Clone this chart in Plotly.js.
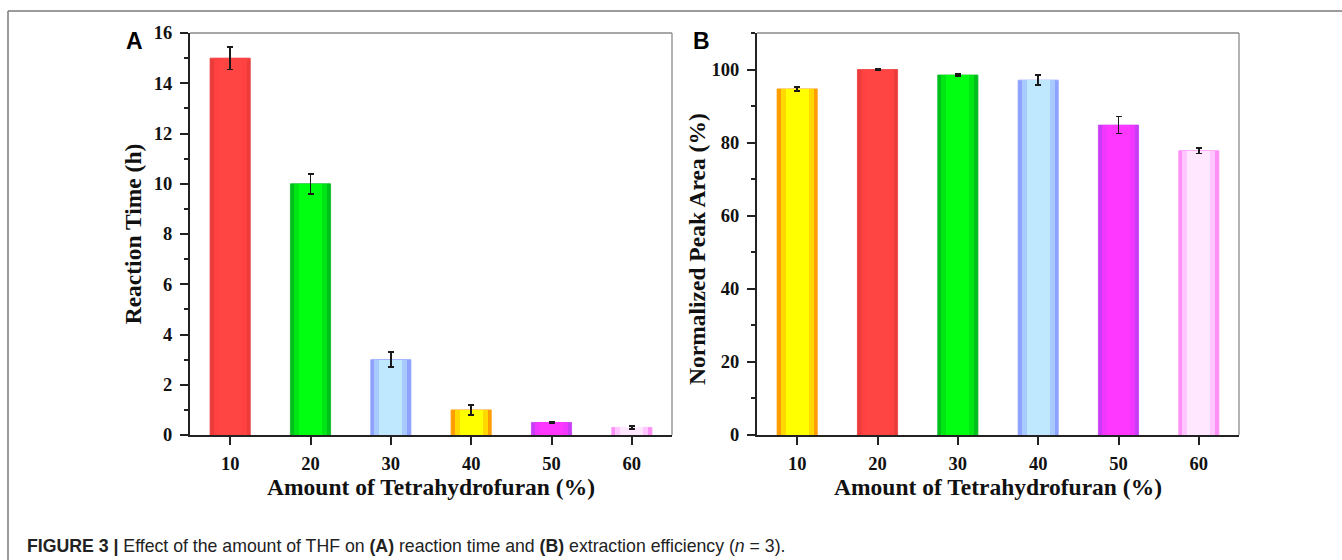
<!DOCTYPE html>
<html>
<head>
<meta charset="utf-8">
<script src="https://cdn.plot.ly/plotly-3.0.1.min.js"></script>
<style>html,body{margin:0;padding:0;background:#fff;} #chart{width:1342px;height:560px;}</style>
</head>
<body>
<div id="chart"></div>
<script>
// ---- data ----
const thfAmount = [10, 20, 30, 40, 50, 60];
const reactionTime = [15, 10, 3, 1, 0.5, 0.3];
const reactionTimeErr = [0.45, 0.4, 0.3, 0.2, 0.03, 0.06];
const peakArea = [94.7, 100, 98.5, 97.1, 84.8, 77.8];
const peakAreaErr = [0.6, 0.15, 0.3, 1.4, 2.3, 0.8];
const tickLabels = ['10', '20', '30', '40', '50', '60'];

// ---- styles ----
const RED = ['#EC3B3B', '#FF4141', '#FF4444'];
const GREEN = ['#00BE1C', '#00E614', '#00FF10'];
const BLUE = ['#8FA2FF', '#A8CAFF', '#BFE8FF'];
const YELLOW = ['#FF9C00', '#FFD800', '#FFFF00'];
const MAGENTA = ['#C83CF6', '#F036FF', '#FF38FF'];
const PINK = ['#FF90F6', '#FFC6FF', '#FFE8FF'];
const colorsA = [RED, GREEN, BLUE, YELLOW, MAGENTA, PINK];
const colorsB = [YELLOW, RED, GREEN, BLUE, MAGENTA, PINK];
const layerWidths = [5, 4.1, 2.9];

const serif = 'Liberation Serif, Times New Roman, serif';
const sans = 'Liberation Sans, Arial, sans-serif';

function layeredBars(y, err, colors, xa, ya) {
  const traces = [];
  layerWidths.forEach((w, li) => {
    const t = {
      type: 'bar', x: thfAmount, y: y, width: w,
      xaxis: xa, yaxis: ya, showlegend: false, hoverinfo: 'x+y',
      marker: {color: colors.map(c => c[li]),
               line: {width: li === 0 ? 0.8 : 0, color: colors.map(c => c[0])}}
    };
    if (li === layerWidths.length - 1) {
      t.error_y = {type: 'data', array: err, visible: true, color: '#1a1a1a', thickness: 1.6, width: 3};
    }
    traces.push(t);
  });
  return traces;
}

const data = [].concat(
  layeredBars(reactionTime, reactionTimeErr, colorsA, 'x', 'y'),
  layeredBars(peakArea, peakAreaErr, colorsB, 'x2', 'y2')
);

const W = 1342, H = 560;
const ydom = [(H - 435) / H, (H - 33) / H];
const tickFont = {family: serif, size: 18.5, weight: 'bold', color: '#111'};
const titleFont = {family: serif, size: 23.5, weight: 'bold', color: '#111'};

function xAxis(domain, anchor) {
  return {
    domain: domain, anchor: anchor, range: [5, 65],
    tickmode: 'array', tickvals: thfAmount, ticktext: tickLabels,
    ticks: 'outside', ticklen: 8, tickwidth: 2, tickcolor: '#222',
    showline: true, linewidth: 2, linecolor: '#222',
    showgrid: false, zeroline: false, fixedrange: true,
    tickfont: tickFont, ticklabelstandoff: 3,
    title: {text: 'Amount of Tetrahydrofuran (%)', font: titleFont, standoff: 4}
  };
}
function yAxis(domain, anchor, range, dtick, minor, title, standoff) {
  const ax = {
    domain: domain, anchor: anchor, range: range, dtick: dtick,
    ticks: 'outside', ticklen: 8, tickwidth: 2, tickcolor: '#222',
    minor: {dtick: minor, ticks: 'outside', ticklen: 4, tickwidth: 2, tickcolor: '#222', showgrid: false},
    showline: true, linewidth: 2, linecolor: '#222',
    showgrid: false, zeroline: false, fixedrange: true,
    tickfont: tickFont, ticklabelstandoff: 4
  };
  if (title) ax.title = {text: title, font: titleFont, standoff: standoff};
  return ax;
}

const frame = (xr, yr) => ([
  {type: 'line', xref: xr + ' domain', yref: yr + ' domain', x0: 0, x1: 1, y0: 1, y1: 1, line: {color: '#8a8a8a', width: 1.3}},
  {type: 'line', xref: xr + ' domain', yref: yr + ' domain', x0: 1, x1: 1, y0: 0, y1: 1, line: {color: '#8a8a8a', width: 1.3}}
]);

const layout = {
  width: W, height: H, margin: {l: 0, r: 0, t: 0, b: 0},
  paper_bgcolor: '#fff', plot_bgcolor: '#fff',
  barmode: 'overlay', bargap: 0,
  xaxis: xAxis([190 / W, 672 / W], 'y'),
  yaxis: yAxis(ydom, 'x', [0, 16], 2, 1, 'Reaction Time (h)', 6),
  xaxis2: xAxis([757 / W, 1239 / W], 'y2'),
  yaxis2: yAxis(ydom, 'x2', [0, 110], 20, 10, null, 0),
  shapes: [].concat(
    frame('x', 'y'), frame('x2', 'y2'),
    [
      {type: 'line', xref: 'paper', yref: 'paper', x0: 8 / W, x1: 1, y0: (H - 11) / H, y1: (H - 11) / H, line: {color: '#7a7a7a', width: 1.5}},
      {type: 'line', xref: 'paper', yref: 'paper', x0: 8 / W, x1: 8 / W, y0: 0, y1: (H - 11) / H, line: {color: '#7a7a7a', width: 1.5}}
    ]
  ),
  annotations: [
    {text: 'Normalized Peak Area (%)', xref: 'paper', yref: 'paper', x: 697 / W, y: (H - 249) / H, textangle: -90,
     xanchor: 'center', yanchor: 'middle', showarrow: false, font: titleFont},
    {text: 'A', xref: 'paper', yref: 'paper', x: 134 / W, y: (H - 41) / H, xanchor: 'center', yanchor: 'middle', showarrow: false,
     font: {family: sans, size: 23, weight: 'bold', color: '#000'}},
    {text: 'B', xref: 'paper', yref: 'paper', x: 702 / W, y: (H - 41) / H, xanchor: 'center', yanchor: 'middle', showarrow: false,
     font: {family: sans, size: 23, weight: 'bold', color: '#000'}},
    {text: '<b>FIGURE 3 |</b> Effect of the amount of THF on <b>(A)</b> reaction time and <b>(B)</b> extraction efficiency (<i>n</i> = 3).',
     xref: 'paper', yref: 'paper', x: 25 / W, y: (H - 546) / H, xanchor: 'left', yanchor: 'middle', showarrow: false,
     font: {family: 'Liberation Sans Narrow, Arial Narrow, ' + sans, size: 17.7, color: '#222'}}
  ]
};

Plotly.newPlot('chart', data, layout, {displayModeBar: false, staticPlot: true});
</script>
</body>
</html>
